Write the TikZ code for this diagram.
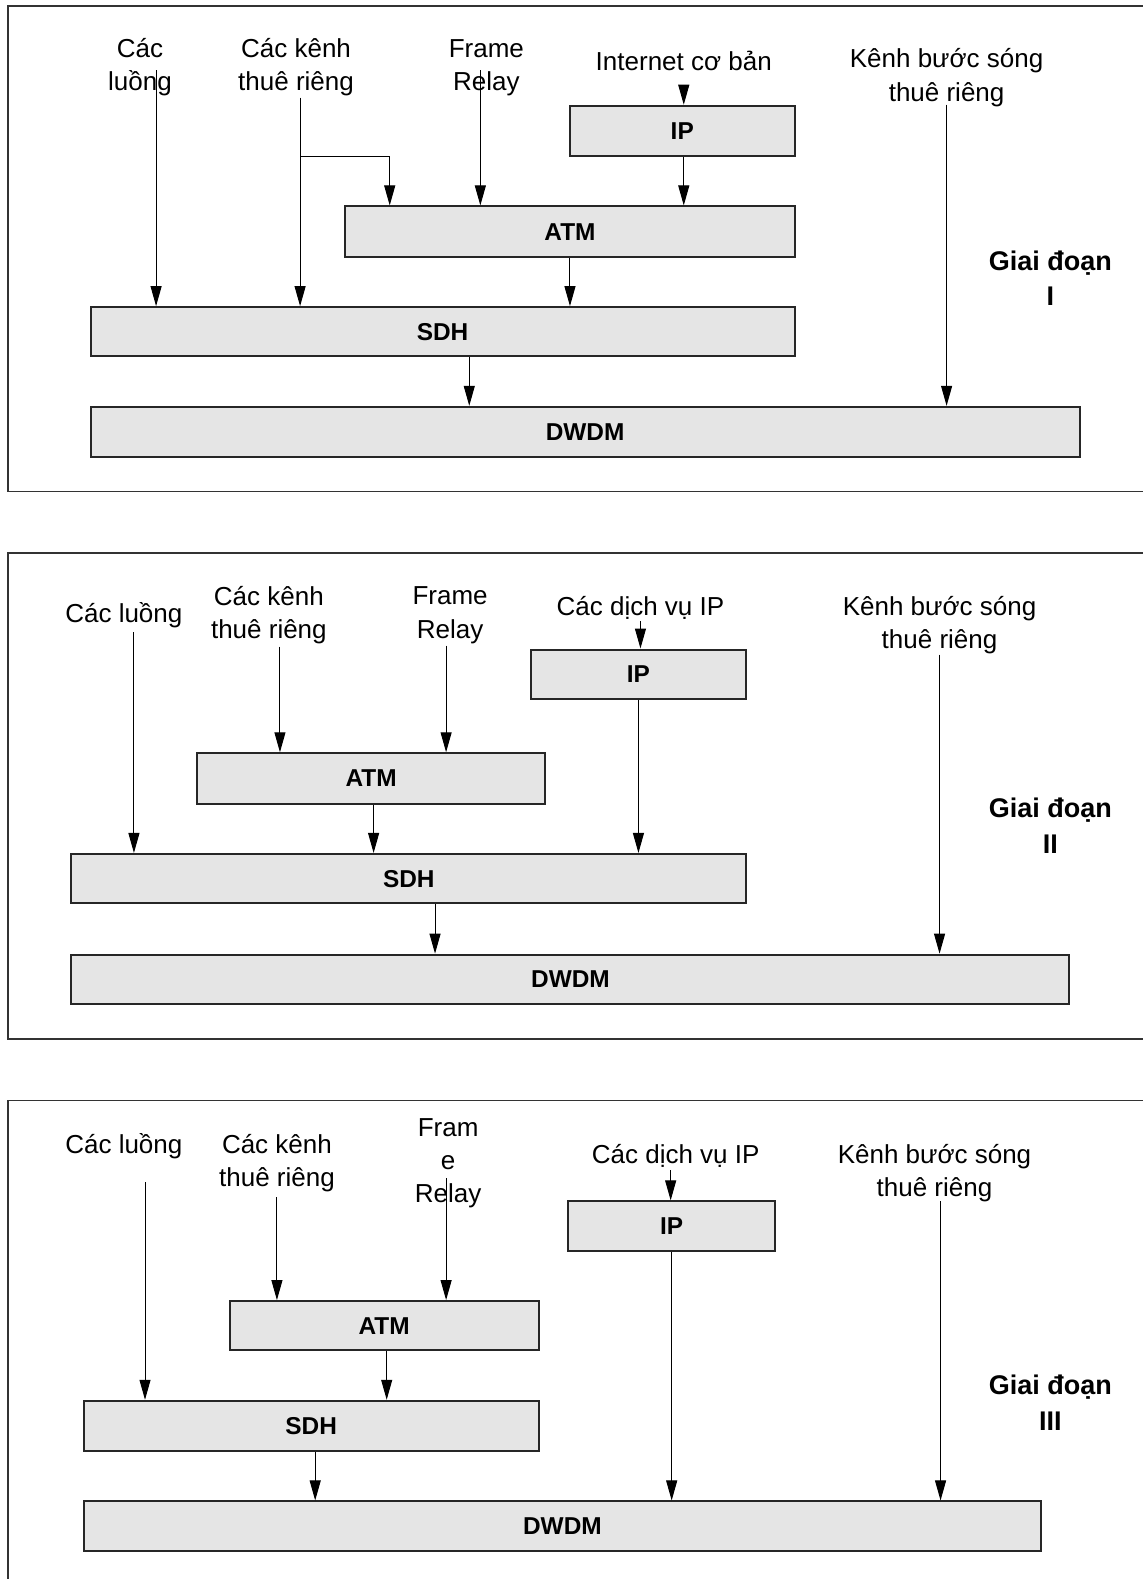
\documentclass[tikz,border=0pt]{standalone}
\usepackage{fontspec}
\setmainfont{Liberation Sans}
\usetikzlibrary{arrows.meta,fit}
\begin{document}
\begin{tikzpicture}[x=0.5035pt,y=-0.5035pt,
  frame/.style={draw=black!80,line width=0.8pt},
  layer/.style={draw=black!85,fill=black!10,line width=1pt,inner sep=0pt},
  boxtxt/.style={inner sep=0pt,font=\bfseries\fontsize{12.2}{15}\selectfont},
  lbl/.style={align=center,inner sep=0pt,font=\fontsize{13}{16.6}\selectfont},
  phase/.style={align=center,inner sep=0pt,font=\bfseries\fontsize{13.5}{17.6}\selectfont},
  arr/.style={-{Triangle[length=10pt,width=5.5pt]},line width=0.5pt}]
\useasboundingbox (0,0) rectangle (1135,1568);
\fill[white] (0,0) rectangle (1135,1568);

% ---------------- Giai đoạn I ----------------
\draw[frame] (1150,6) -- (8,6) -- (8,488) -- (1150,488);
\node[lbl] (l1a) at (139,67) {Các\\luồng};
\node[lbl] (l1b) at (294,67) {Các kênh\\thuê riêng};
\node[lbl] (l1c) at (483,67) {Frame\\Relay};
\node[lbl] (l1d) at (679,61) {Internet cơ bản};
\node[lbl] (l1e) at (940,77) {Kênh bước sóng\\thuê riêng};
\node[phase] (p1) at (1043,276) {Giai đoạn\\I};
\node[layer,fit={(566,105) (789,155)},label={[boxtxt]center:IP}] (ip1) {};
\node[layer,fit={(343,205) (789,255)},label={[boxtxt]center:ATM}] (atm1) {};
\node[layer,fit={(90,305) (789,354)},label={[boxtxt]center:SDH}] (sdh1) {};
\node[layer,fit={(90,404) (1072,454)},label={[boxtxt]center:DWDM}] (dwdm1) {};
\coordinate (s1a) at (155,70);
\coordinate (s1b) at (298,97);
\coordinate (k1b) at (298,155);
\coordinate (t1b) at (387,155);
\coordinate (s1c) at (477,70);
\coordinate (s1d) at (679,85);
\coordinate (s1e) at (940,104);
\coordinate (s1g) at (566,255);
\coordinate (s1f) at (466,354);
\draw[arr] (s1a) -- (s1a |- sdh1.north);
\draw[arr] (s1b) -- (s1b |- sdh1.north);
\draw[arr] (k1b) -- (t1b) -- (t1b |- atm1.north);
\draw[arr] (s1c) -- (s1c |- atm1.north);
\draw[arr] (s1d) -- (s1d |- ip1.north);
\draw[arr] (s1d |- ip1.south) -- (s1d |- atm1.north);
\draw[arr] (s1g |- atm1.south) -- (s1g |- sdh1.north);
\draw[arr] (s1f |- sdh1.south) -- (s1f |- dwdm1.north);
\draw[arr] (s1e) -- (s1e |- dwdm1.north);

% ---------------- Giai đoạn II ----------------
\draw[frame] (1150,549) -- (8,549) -- (8,1032) -- (1150,1032);
\node[lbl] (l2a) at (123,611) {Các luồng};
\node[lbl] (l2b) at (267,611) {Các kênh\\thuê riêng};
\node[lbl] (l2c) at (447,611) {Frame\\Relay};
\node[lbl] (l2d) at (636,604) {Các dịch vụ IP};
\node[lbl] (l2e) at (933,621) {Kênh bước sóng\\thuê riêng};
\node[phase] (p2) at (1043,820) {Giai đoạn\\II};
\node[layer,fit={(527,645) (741,694)},label={[boxtxt]center:IP}] (ip2) {};
\node[layer,fit={(196,748) (541,798)},label={[boxtxt]center:ATM}] (atm2) {};
\node[layer,fit={(71,848) (741,897)},label={[boxtxt]center:SDH}] (sdh2) {};
\node[layer,fit={(71,948) (1062,997)},label={[boxtxt]center:DWDM}] (dwdm2) {};
\coordinate (s2a) at (133,628);
\coordinate (s2b) at (278,642);
\coordinate (s2c) at (443,641);
\coordinate (s2d) at (636,617);
\coordinate (s2e) at (933,650);
\coordinate (s2f) at (634,697);
\coordinate (s2g) at (371,798);
\coordinate (s2h) at (432,897);
\draw[arr] (s2a) -- (s2a |- sdh2.north);
\draw[arr] (s2b) -- (s2b |- atm2.north);
\draw[arr] (s2c) -- (s2c |- atm2.north);
\draw[arr] (s2d) -- (s2d |- ip2.north);
\draw[arr] (s2f |- ip2.south) -- (s2f |- sdh2.north);
\draw[arr] (s2g |- atm2.south) -- (s2g |- sdh2.north);
\draw[arr] (s2h |- sdh2.south) -- (s2h |- dwdm2.north);
\draw[arr] (s2e) -- (s2e |- dwdm2.north);

% ---------------- Giai đoạn III ----------------
\draw[frame] (1150,1093) -- (8,1093) -- (8,1600);
\node[lbl] (l3a) at (123,1138) {Các luồng};
\node[lbl] (l3b) at (275,1155) {Các kênh\\thuê riêng};
\node[lbl] (l3c) at (445,1155) {Fram\\e\\Relay};
\node[lbl] (l3d) at (671,1148) {Các dịch vụ IP};
\node[lbl] (l3e) at (928,1165) {Kênh bước sóng\\thuê riêng};
\node[phase] (p3) at (1043,1393) {Giai đoạn\\III};
\node[layer,fit={(564,1193) (770,1242)},label={[boxtxt]center:IP}] (ip3) {};
\node[layer,fit={(228,1292) (535,1341)},label={[boxtxt]center:ATM}] (atm3) {};
\node[layer,fit={(83,1391) (535,1441)},label={[boxtxt]center:SDH}] (sdh3) {};
\node[layer,fit={(83,1491) (1034,1540)},label={[boxtxt]center:DWDM}] (dwdm3) {};
\coordinate (s3a) at (144,1174);
\coordinate (s3b) at (275,1189);
\coordinate (s3c) at (443,1170);
\coordinate (s3d) at (666,1162);
\coordinate (s3e) at (934,1193);
\coordinate (s3f) at (667,1242);
\coordinate (s3g) at (384,1341);
\coordinate (s3h) at (313,1441);
\draw[arr] (s3a) -- (s3a |- sdh3.north);
\draw[arr] (s3b) -- (s3b |- atm3.north);
\draw[arr] (s3c) -- (s3c |- atm3.north);
\draw[arr] (s3d) -- (s3d |- ip3.north);
\draw[arr] (s3f |- ip3.south) -- (s3f |- dwdm3.north);
\draw[arr] (s3g |- atm3.south) -- (s3g |- sdh3.north);
\draw[arr] (s3h |- sdh3.south) -- (s3h |- dwdm3.north);
\draw[arr] (s3e) -- (s3e |- dwdm3.north);
\end{tikzpicture}
\end{document}
